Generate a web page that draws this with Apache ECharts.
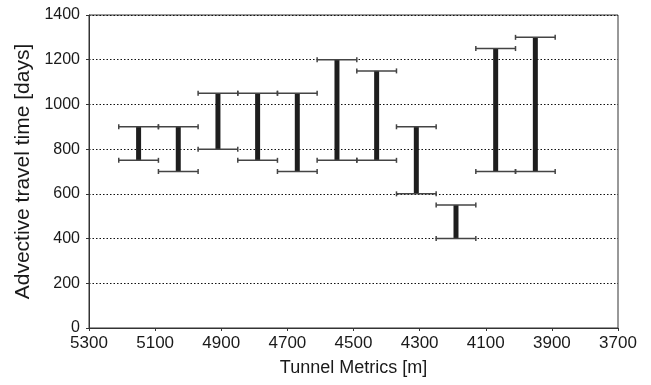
<!DOCTYPE html>
<html>
<head>
<meta charset="utf-8">
<script src="https://cdn.jsdelivr.net/npm/echarts@6/dist/echarts.min.js"></script>
<style>
  html, body { margin: 0; padding: 0; background: #fff; }
  #chart { width: 651px; height: 385px; }
</style>
</head>
<body>
<div id="chart"></div>
<script>
// tunnel metre of each range and the travel time range [days]
var metrics = [5150, 5030, 4910, 4790, 4670, 4550, 4430, 4310, 4190, 4070, 3950];
var lowDays = [750, 700, 800, 750, 700, 750, 750, 600, 400, 700, 700];
var highDays = [900, 900, 1050, 1050, 1050, 1200, 1150, 900, 550, 1250, 1300];
var xTicks = [5300, 5100, 4900, 4700, 4500, 4300, 4100, 3900, 3700];
var capHalf = 60; // metres

var font = "'Liberation Sans', Arial, Helvetica, sans-serif";

var data = metrics.map(function (m, i) {
    return [m, lowDays[i], highDays[i]];
});

function plain(v) { return String(v); }

function renderRange(params, api) {
    var x = api.value(0), lo = api.value(1), hi = api.value(2);
    var top = api.coord([x, hi]);
    var bot = api.coord([x, lo]);
    var a = api.coord([x - capHalf, hi])[0];
    var b = api.coord([x + capHalf, hi])[0];
    var l = Math.min(a, b), r = Math.max(a, b);
    var capStyle = { stroke: '#444', lineWidth: 1.5 };
    var kids = [{
        type: 'rect',
        shape: { x: top[0] - 2.5, y: top[1], width: 5, height: bot[1] - top[1] },
        style: { fill: '#1e1e1e' }
    }];
    [top[1], bot[1]].forEach(function (y) {
        kids.push({ type: 'line', shape: { x1: l, y1: y, x2: r, y2: y }, style: capStyle });
        kids.push({ type: 'line', shape: { x1: l, y1: y - 2.5, x2: l, y2: y + 2.5 }, style: capStyle });
        kids.push({ type: 'line', shape: { x1: r, y1: y - 2.5, x2: r, y2: y + 2.5 }, style: capStyle });
    });
    return { type: 'group', children: kids };
}

var chart = echarts.init(document.getElementById('chart'));
var option = {
    animation: false,
    grid: {
        left: 89, right: 33, top: 15, bottom: 57,
        show: true, borderColor: '#333', borderWidth: 1
    },
    xAxis: {
        type: 'value',
        inverse: true,
        min: 3700,
        max: 5300,
        name: 'Tunnel Metrics [m]',
        nameLocation: 'middle',
        nameGap: 31,
        nameTextStyle: { color: '#1a1a1a', fontSize: 18, fontFamily: font },
        axisLine: { lineStyle: { color: '#333', width: 1 } },
        axisTick: { show: true, length: 3, customValues: xTicks, lineStyle: { color: '#333' } },
        axisLabel: { customValues: xTicks, formatter: plain, color: '#1a1a1a', fontSize: 17, fontFamily: font, margin: 7 },
        splitLine: { show: false }
    },
    yAxis: {
        type: 'value',
        min: 0,
        max: 1400,
        interval: 200,
        name: 'Advective travel time [days]',
        nameLocation: 'middle',
        nameGap: 52,
        nameTextStyle: { color: '#1a1a1a', fontSize: 21, fontFamily: font },
        axisLine: { show: true, lineStyle: { color: '#333', width: 1 } },
        axisTick: { show: true, length: 3, lineStyle: { color: '#333' } },
        axisLabel: { formatter: plain, color: '#1a1a1a', fontSize: 16, fontFamily: font, margin: 9 },
        splitLine: { show: true, lineStyle: { color: '#111', width: 1, type: [1.5, 2] } }
    },
    series: [{
        type: 'custom',
        renderItem: renderRange,
        encode: { x: 0, y: [1, 2] },
        data: data
    }]
};
chart.setOption(option);
</script>
</body>
</html>
